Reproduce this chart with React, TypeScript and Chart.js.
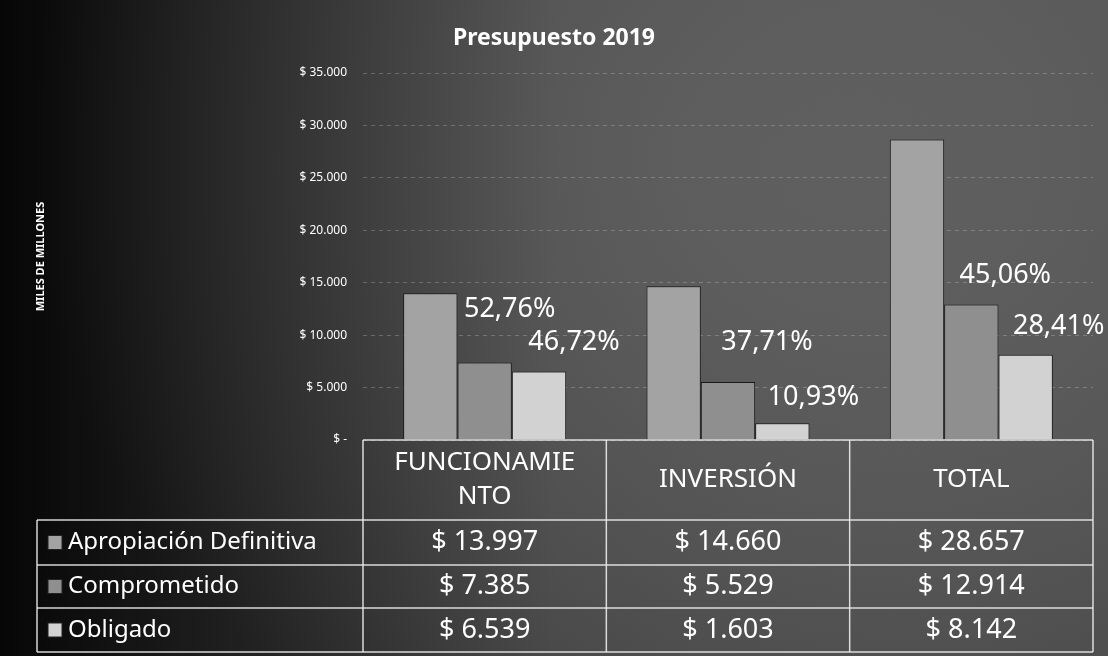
import React, { useEffect, useRef } from "react";
import { Chart, registerables } from "chart.js";

Chart.register(...registerables);

// ---- data ----
const chartTitle = "Presupuesto 2019";
const yAxisTitle = "MILES DE MILLONES";
const categories = ["FUNCIONAMIENTO", "INVERSIÓN", "TOTAL"];
const seriesNames = ["Apropiación Definitiva", "Comprometido", "Obligado"];
const apropiacion = [13997, 14660, 28657];
const comprometido = [7385, 5529, 12914];
const obligado = [6539, 1603, 8142];
const yTickValues = [0, 5000, 10000, 15000, 20000, 25000, 30000, 35000];

// ---- style ----
const seriesColors = ["#a3a3a3", "#8f8f8f", "#d2d2d2"];
const FONT = "'Noto Sans', 'Open Sans', sans-serif";
// manual label offsets (as placed in the original sheet), per series (Comprometido, Obligado)
const labelDx = [[25, 39, 34], [35, 31, 33]];
const labelDy = [[-53, -40, -29], [-29, -26, -28]];

const fmtMiles = (n: number) => String(n).replace(/\B(?=(\d{3})+(?!\d))/g, ".");
const fmtMoney = (n: number) => (n === 0 ? "$ -" : "$ " + fmtMiles(n));

const backgroundPlugin = {
  id: "bgPlugin",
  beforeDraw(chart: any) {
    const { ctx, width, height } = chart;
    ctx.save();
    const g = ctx.createLinearGradient(0, 0, width, 0);
    g.addColorStop(0, "#070707");
    g.addColorStop(0.22, "#262626");
    g.addColorStop(0.5, "#4c4c4c");
    g.addColorStop(1, "#5c5c5c");
    ctx.fillStyle = g;
    ctx.fillRect(0, 0, width, height);
    const r = ctx.createRadialGradient(680, 160, 20, 680, 160, 650);
    r.addColorStop(0, "rgba(255,255,255,0.08)");
    r.addColorStop(1, "rgba(0,0,0,0.15)");
    ctx.fillStyle = r;
    ctx.fillRect(0, 0, width, height);
    ctx.restore();
  },
};

const overlayPlugin = {
  id: "overlayPlugin",
  afterDraw(chart: any) {
    const { ctx } = chart;
    const ca = chart.chartArea;
    const xs = chart.scales.x;
    ctx.save();

    // title
    ctx.fillStyle = "#ffffff";
    ctx.font = `bold 23px ${FONT}`;
    ctx.textAlign = "center";
    ctx.textBaseline = "middle";
    ctx.fillText(chartTitle, chart.width / 2, 38);

    // percentage labels
    const series = [comprometido, obligado];
    ctx.font = `27px ${FONT}`;
    for (let s = 0; s < 2; s++) {
      const meta = chart.getDatasetMeta(s + 1);
      meta.data.forEach((bar: any, i: number) => {
        const pct = ((series[s][i] / apropiacion[i]) * 100).toFixed(2).replace(".", ",") + "%";
        ctx.fillText(pct, bar.x + labelDx[s][i], bar.y + labelDy[s][i]);
      });
    }

    // data table
    const top = ca.bottom;
    const rows = [top, top + 80, top + 125, top + 168, top + 212];
    const left = ca.left;
    const right = ca.right;
    const colW = (right - left) / categories.length;
    const legendLeft = 37;
    ctx.strokeStyle = "rgba(235,235,235,0.9)";
    ctx.lineWidth = 1.5;
    const line = (x1: number, y1: number, x2: number, y2: number) => {
      ctx.beginPath();
      ctx.moveTo(x1, y1);
      ctx.lineTo(x2, y2);
      ctx.stroke();
    };
    line(left, rows[0], right, rows[0]);
    for (let r = 1; r < rows.length; r++) line(legendLeft, rows[r], right, rows[r]);
    for (let c = 0; c <= categories.length; c++) {
      const x = left + c * colW;
      line(x, rows[0], x, rows[4]);
    }
    line(legendLeft, rows[1], legendLeft, rows[4]);

    // header texts (wrapped like Excel)
    ctx.font = `26px ${FONT}`;
    ctx.fillStyle = "#ffffff";
    const maxW = colW - 48;
    categories.forEach((cat, i) => {
      const cx = xs.getPixelForValue(i);
      const lines: string[] = [];
      let cur = "";
      for (const ch of cat) {
        if (ctx.measureText(cur + ch).width > maxW && cur) {
          lines.push(cur);
          cur = ch;
        } else cur += ch;
      }
      lines.push(cur);
      const lh = 34;
      const cy = (rows[0] + rows[1]) / 2;
      lines.forEach((t, k) => {
        ctx.fillText(t, cx, cy + (k - (lines.length - 1) / 2) * lh);
      });
    });

    // value rows
    const allSeries = [apropiacion, comprometido, obligado];
    allSeries.forEach((vals, r) => {
      const cy = (rows[r + 1] + rows[r + 2]) / 2;
      ctx.font = `27px ${FONT}`;
      ctx.textAlign = "center";
      vals.forEach((v, i) => {
        ctx.fillText(fmtMoney(v), xs.getPixelForValue(i), cy);
      });
      // legend key + name
      ctx.fillStyle = seriesColors[r];
      ctx.fillRect(48, cy - 7, 14, 14);
      ctx.strokeStyle = "#222";
      ctx.lineWidth = 1;
      ctx.strokeRect(48, cy - 7, 14, 14);
      ctx.fillStyle = "#ffffff";
      ctx.font = `24px ${FONT}`;
      ctx.textAlign = "left";
      ctx.fillText(seriesNames[r], 68, cy);
    });

    ctx.restore();
  },
};

export default function App() {
  const ref = useRef<HTMLCanvasElement | null>(null);
  useEffect(() => {
    document.body.style.margin = "0";
    if (!ref.current) return;
    const chart = new Chart(ref.current, {
      type: "bar",
      data: {
        labels: categories,
        datasets: [
          { label: seriesNames[0], data: apropiacion, backgroundColor: seriesColors[0], borderColor: "#1a1a1a", borderWidth: 1 },
          { label: seriesNames[1], data: comprometido, backgroundColor: seriesColors[1], borderColor: "#1a1a1a", borderWidth: 1 },
          { label: seriesNames[2], data: obligado, backgroundColor: seriesColors[2], borderColor: "#1a1a1a", borderWidth: 1 },
        ],
      },
      options: {
        animation: false,
        responsive: true,
        maintainAspectRatio: false,
        layout: { padding: { top: 73, bottom: 216, left: 30, right: 15 } },
        datasets: { bar: { categoryPercentage: 0.67, barPercentage: 1.0 } },
        plugins: {
          legend: { display: false },
          title: { display: false },
          tooltip: { enabled: false },
        },
        scales: {
          x: { display: false },
          y: {
            min: 0,
            max: 35000,
            afterBuildTicks: (s: any) => {
              s.ticks = yTickValues.map((v) => ({ value: v }));
            },
            afterFit: (s: any) => {
              s.width = 333;
            },
            ticks: {
              color: "#ffffff",
              font: { family: FONT, size: 12 },
              padding: 16,
              callback: (v: any) => fmtMoney(Number(v)),
            },
            grid: {
              color: "rgba(220,220,220,0.28)",
              drawTicks: false,
            },
            border: { display: false, dash: [4, 4] },
            title: {
              display: true,
              text: yAxisTitle,
              color: "#ffffff",
              font: { family: FONT, size: 11, weight: "bold" },
            },
          },
        },
      },
      plugins: [backgroundPlugin, overlayPlugin],
    });
    return () => chart.destroy();
  }, []);
  return (
    <div style={{ width: 1108, height: 656, position: "relative" }}>
      <canvas ref={ref} />
    </div>
  );
}
